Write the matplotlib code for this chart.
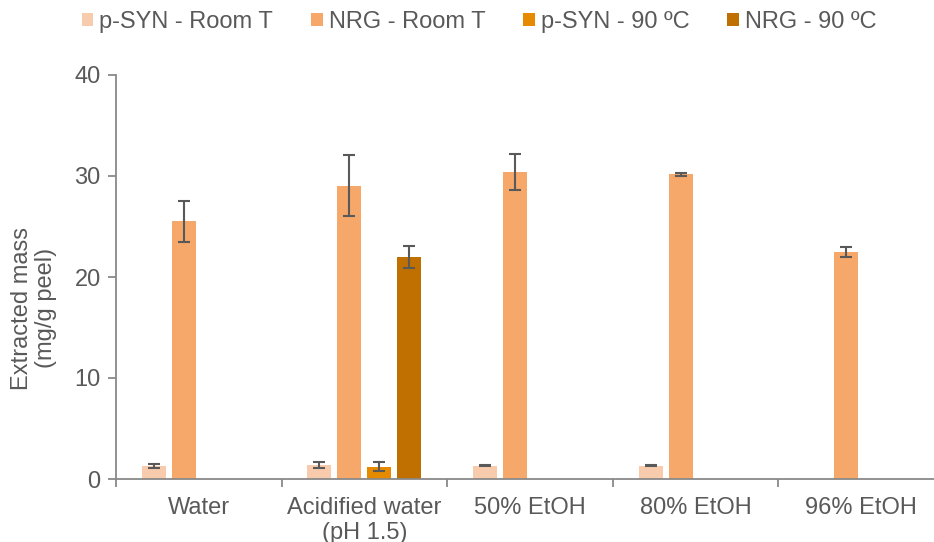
import numpy as np
import matplotlib
matplotlib.use("Agg")
import matplotlib.pyplot as plt
from matplotlib.patches import Patch

plt.rcParams["font.family"] = ["Liberation Sans", "DejaVu Sans"]

categories = ["Water", "Acidified water\n(pH 1.5)", "50% EtOH", "80% EtOH", "96% EtOH"]
series = ["p-SYN - Room T", "NRG - Room T", "p-SYN - 90 ºC", "NRG - 90 ºC"]

psyn_room = [1.3, 1.4, 1.3, 1.3, np.nan]
psyn_room_err = [0.23, 0.28, 0.05, 0.05, np.nan]
nrg_room = [25.5, 29.05, 30.4, 30.15, 22.5]
nrg_room_err = [2.0, 3.0, 1.75, 0.15, 0.5]
psyn_90 = [np.nan, 1.2, np.nan, np.nan, np.nan]
psyn_90_err = [np.nan, 0.45, np.nan, np.nan, np.nan]
nrg_90 = [np.nan, 22.0, np.nan, np.nan, np.nan]
nrg_90_err = [np.nan, 1.1, np.nan, np.nan, np.nan]

values = [psyn_room, nrg_room, psyn_90, nrg_90]
errors = [psyn_room_err, nrg_room_err, psyn_90_err, nrg_90_err]
colors = ["#F8CBAD", "#F5A86A", "#E68A00", "#C07000"]

text_color = "#595959"
axis_color = "#898989"
fs = 17

fig = plt.figure(figsize=(9.34, 5.42), dpi=100)
ax = fig.add_axes([116 / 934, 63 / 542, 828 / 934, 404 / 542])

x = np.arange(len(categories))
slot = 0.181
width = 0.145
for i, (vals, errs, col) in enumerate(zip(values, errors, colors)):
    pos = x + (i - 1.5) * slot
    ax.bar(pos, vals, width, color=col, zorder=2)
    ax.errorbar(pos, vals, yerr=errs, fmt="none", ecolor=text_color,
                elinewidth=1.5, capsize=4.3, capthick=1.5, zorder=3)

ax.set_xlim(-0.5, len(categories) - 0.5)
ax.set_ylim(0, 40)
ax.set_yticks([0, 10, 20, 30, 40])

# category boundaries get the tick marks, centres get the labels
ax.set_xticks(np.arange(len(categories) + 1) - 0.5)
ax.set_xticklabels([])
ax.set_xticks(x, minor=True)
ax.set_xticklabels(categories, minor=True)
ax.tick_params(axis="x", which="major", length=6, width=1.3, color=axis_color)
ax.tick_params(axis="x", which="minor", length=0, pad=13,
               labelsize=fs, labelcolor=text_color)
ax.tick_params(axis="y", length=6, width=1.3, color=axis_color, pad=5,
               labelsize=fs, labelcolor=text_color)

for side in ["top", "right"]:
    ax.spines[side].set_visible(False)
for side in ["left", "bottom"]:
    ax.spines[side].set_color(axis_color)
    ax.spines[side].set_linewidth(1.3)

fig.text(34 / 934, 1 - 308 / 542, "Extracted mass\n(mg/g peel)", rotation=90,
         ha="center", va="center", multialignment="center",
         fontsize=fs, color=text_color, linespacing=1.15)

handles = [Patch(facecolor=c, edgecolor="none") for c in colors]
fig.legend(handles, series, loc="center", bbox_to_anchor=(479 / 934, 1 - 22 / 542),
           ncol=4, frameon=False, fontsize=fs, labelcolor=text_color,
           handlelength=0.5, handleheight=0.5, handletextpad=0.25,
           columnspacing=1.6)

fig.savefig("out.png", dpi=100)
